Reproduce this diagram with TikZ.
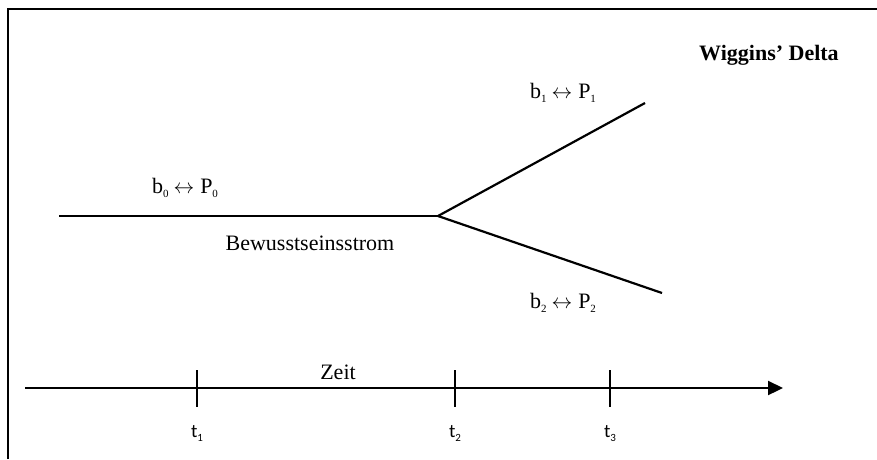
\documentclass[tikz,border=0pt]{standalone}
\usepackage{fontspec}
\setmainfont{Liberation Serif}
\newfontfamily\calfont{Carlito}
\usetikzlibrary{arrows.meta}
\newcommand{\sbx}[1]{\raisebox{-0.45ex}{\fontsize{11}{11}\selectfont #1}}
\newcommand{\lra}{\hspace{5pt}$\leftrightarrow$\hspace{6pt}}
\begin{document}
\begin{tikzpicture}[x=1pt,y=-1pt,
  line/.style={line width=2.2pt},
  txt/.style={font=\fontsize{22}{26}\selectfont, inner sep=0pt, anchor=base},
  ttl/.style={font=\bfseries\fontsize{22}{26}\selectfont, inner sep=0pt, anchor=base west},
  tlab/.style={font=\calfont\fontsize{19}{22}\selectfont, inner sep=0pt, anchor=base}]
\useasboundingbox (0,0) rectangle (877,459);
% frame (top and left)
\coordinate (fl) at (8,459);
\coordinate (fc) at (8,9);
\coordinate (fr) at (877,9);
\draw[line width=2.2pt] (fl) -- (fc) -- (fr);
% stream and branches
\coordinate (s0) at (59,216);
\coordinate (br) at (438,216);
\coordinate (up) at (645,103);
\coordinate (lo) at (662,293);
\draw[line] (s0) -- (br);
\draw[line] (br) -- (up);
\draw[line] (br) -- (lo);
% labels
\node[ttl] (title) at (699,60) {Wiggins’ Delta};
\node[txt] (l0) at (185,193) {b\sbx{0}\lra P\sbx{0}};
\node[txt] (l1) at (563,98) {b\sbx{1}\lra P\sbx{1}};
\node[txt] (l2) at (563,308) {b\sbx{2}\lra P\sbx{2}};
\node[txt] (bw) at (310,250) {Bewusstseinsstrom};
% time axis
\coordinate (a0) at (25,388);
\coordinate (a1) at (783,388);
\draw[line, -{Triangle[length=15pt,width=14pt]}] (a0) -- (a1);
\node[txt] (zeit) at (338,379) {Zeit};
\foreach \n/\x in {1/197,2/455,3/610}{
  \coordinate (tt\n) at (\x,370);
  \coordinate (tb\n) at (\x,407);
  \draw[line] (tt\n) -- (tb\n);
  \node[tlab] (t\n) at (\x,437) {t\sbx{\n}};
}
\end{tikzpicture}
\end{document}
